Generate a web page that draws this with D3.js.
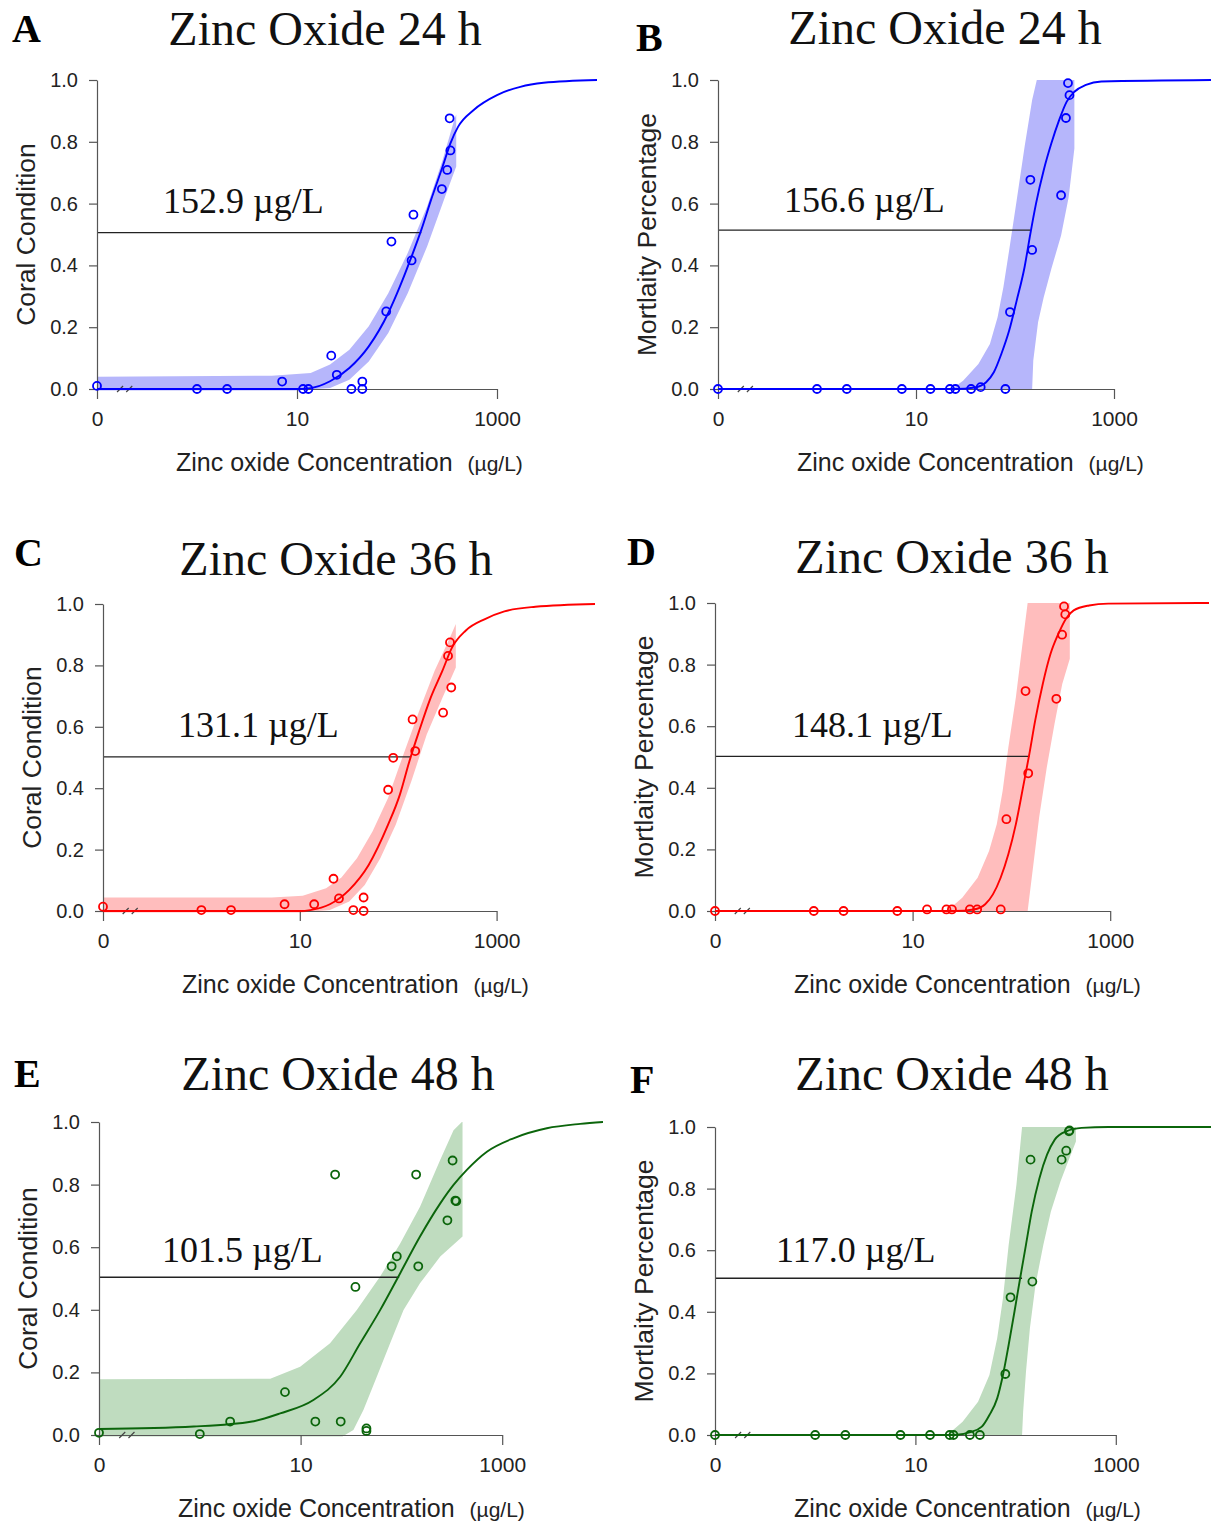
<!DOCTYPE html>
<html>
<head>
<meta charset="UTF-8">
<script src="https://cdn.jsdelivr.net/npm/d3@7"></script>
<style>
  body { margin: 0; background: #fff; }
  .axis text { font-family: "Liberation Sans", Arial, sans-serif; fill: #222; }
  .axis path, .axis line { stroke: #555; stroke-width: 1.2; }
</style>
</head>
<body>
<svg id="fig" width="1211" height="1523"></svg>
<script>
// ---- text ----
var letters = ["A", "B", "C", "D", "E", "F"];
var titles = ["Zinc Oxide 24 h", "Zinc Oxide 24 h", "Zinc Oxide 36 h", "Zinc Oxide 36 h", "Zinc Oxide 48 h", "Zinc Oxide 48 h"];
var yTitles = ["Coral Condition", "Mortlaity Percentage", "Coral Condition", "Mortlaity Percentage", "Coral Condition", "Mortlaity Percentage"];
var ec50Text = ["152.9 \u00b5g/L", "156.6 \u00b5g/L", "131.1 \u00b5g/L", "148.1 \u00b5g/L", "101.5 \u00b5g/L", "117.0 \u00b5g/L"];
var yTicks = [0, 0.2, 0.4, 0.6, 0.8, 1.0];
var xTicks = [0, 10, 1000];

// ---- observed points (dose in ug/L, response) ----
var aDose = [0, 1, 2, 7.1, 11.5, 13, 22, 25, 35, 45, 45, 78, 88, 140, 146, 281, 318, 342, 336];
var aResp = [0.01, 0, 0, 0.024, 0, 0, 0.108, 0.046, 0, 0.024, 0, 0.251, 0.477, 0.416, 0.564, 0.647, 0.709, 0.772, 0.876];
var bDose = [0, 1, 2, 7.2, 14, 22, 25, 36, 45, 80, 89, 143, 149, 292, 327, 355, 343];
var bResp = [0, 0, 0, 0, 0, 0, 0, 0, 0.006, 0, 0.249, 0.677, 0.45, 0.627, 0.877, 0.951, 0.99];
var cDose = [0, 1, 2, 7, 14, 22, 25, 35, 44.5, 44.5, 79, 89, 140, 149, 286, 321, 336, 346];
var cResp = [0.014, 0.003, 0.003, 0.022, 0.022, 0.105, 0.041, 0.003, 0.044, 0, 0.395, 0.499, 0.624, 0.521, 0.646, 0.831, 0.875, 0.728];
var dDose = [0, 1, 2, 7, 14, 22, 25, 38, 45, 78, 89, 139, 148, 285, 326, 351, 341];
var dResp = [0, 0, 0, 0, 0.005, 0.005, 0.005, 0.005, 0.005, 0.005, 0.298, 0.714, 0.447, 0.689, 0.897, 0.963, 0.989];
var eDose = [0, 1, 2, 7, 14, 22, 25, 35, 45, 45, 80, 90, 140, 147, 286, 322, 343, 350];
var eResp = [0.007, 0.003, 0.043, 0.137, 0.043, 0.832, 0.043, 0.473, 0.021, 0.013, 0.539, 0.571, 0.832, 0.539, 0.686, 0.877, 0.749, 0.747];
var fDose = [0, 1, 2, 7.1, 14, 22, 24, 35, 44, 79, 89, 141, 147, 288, 320, 341, 345];
var fResp = [0, 0, 0, 0, 0, 0, 0, 0, 0, 0.198, 0.447, 0.894, 0.498, 0.894, 0.923, 0.986, 0.989];

// ---- fitted curves [dose, response] ----
var aCurve = [[0,0],[10,0],[13.7,0.003],[21.4,0.025],[33.4,0.068],[52.2,0.138],[81.8,0.246],[107,0.332],[140,0.429],[175,0.515],[219,0.612],[286,0.72],[342,0.795],[409,0.849],[585,0.903],[1000,0.951],[1710,0.978],[2924,0.991],[10000,1]];
var bCurve = [[0,0],[25,0],[39.1,0.005],[51.1,0.022],[61.1,0.054],[72.9,0.114],[87.3,0.189],[104,0.286],[125,0.395],[143,0.503],[163,0.6],[195,0.708],[233,0.795],[279,0.87],[333,0.93],[398,0.962],[521,0.984],[745,0.995],[10000,1]];
var cCurve = [[0,0],[10,0],[12.8,0.003],[20.2,0.022],[31.8,0.069],[50.1,0.15],[78.9,0.281],[104,0.379],[130,0.488],[163,0.586],[214,0.695],[281,0.782],[352,0.858],[484,0.913],[762,0.951],[1200,0.976],[2477,0.991],[10000,1]];
var dCurve = [[0,0],[26.5,0],[41.6,0.005],[54.3,0.022],[65,0.054],[77.8,0.108],[93.1,0.184],[111,0.282],[133,0.412],[152,0.51],[174,0.618],[208,0.738],[249,0.835],[299,0.9],[357,0.949],[427,0.976],[611,0.992],[955,0.998],[10000,1]];
var eCurve = [[0,0.019],[0.87,0.027],[3.3,0.043],[6.27,0.069],[13.4,0.112],[24.7,0.186],[39,0.293],[61.5,0.399],[97.3,0.517],[153,0.634],[243,0.74],[329,0.799],[446,0.847],[705,0.905],[1294,0.948],[2773,0.98],[5943,0.994],[10000,1]];
var fCurve = [[0,0],[24.8,0],[35.3,0.009],[46,0.027],[54.8,0.065],[65.5,0.119],[74.8,0.195],[85.3,0.293],[97.5,0.401],[111,0.509],[127,0.618],[145,0.726],[173,0.834],[206,0.91],[246,0.959],[321,0.986],[456,0.997],[845,1],[10000,1]];

// ---- confidence bands: upper edge and lower edge [dose, response] ----
var aBandHi = [[0,0.04],[5.6,0.043],[13.7,0.052],[21.4,0.079],[33.4,0.127],[52.2,0.203],[81.8,0.31],[128,0.44],[200,0.591],[286,0.741],[374,0.871],[391,0.888]];
var aBandLo = [[0,-0.005],[9.5,-0.005],[21.4,0.003],[33.4,0.03],[52.2,0.089],[81.8,0.181],[128,0.31],[200,0.461],[312,0.634],[391,0.72]];
var bBandHi = [[22.9,0],[29.9,0.027],[42.7,0.081],[55.8,0.146],[66.7,0.232],[76.4,0.33],[87.3,0.449],[104,0.611],[125,0.784],[149,0.935],[166,1],[398,1]];
var bBandLo = [[149,0],[153,0.092],[171,0.216],[195,0.297],[233,0.389],[292,0.497],[348,0.62],[398,0.778]];
var cBandHi = [[0,0.044],[5.2,0.044],[10.7,0.05],[18.5,0.074],[26.5,0.109],[38.1,0.172],[54.8,0.259],[78.9,0.368],[113,0.51],[163,0.651],[234,0.782],[336,0.891],[385,0.935]];
var cBandLo = [[0,-0.005],[10.2,-0.005],[20.2,0.003],[31.8,0.031],[45.7,0.085],[65.8,0.172],[94.4,0.281],[136,0.423],[195,0.575],[281,0.694],[385,0.793]];
var dBandHi = [[22.2,0],[31.8,0.043],[45.5,0.108],[59.4,0.195],[71.1,0.282],[81.5,0.39],[93.1,0.531],[111,0.694],[127,0.846],[146,1],[390,1]];
var dBandLo = [[146,0],[167,0.152],[191,0.304],[228,0.466],[273,0.607],[327,0.737],[390,0.819]];
var eBandHi = [[0,0.178],[5,0.18],[9.9,0.218],[19.6,0.293],[36.1,0.399],[61.5,0.506],[97.3,0.612],[153,0.729],[243,0.879],[329,0.974],[398,1],[404,1]];
var eBandLo = [[0,-0.005],[26,-0.005],[33.4,0.016],[42,0.08],[57,0.186],[77.3,0.293],[105,0.399],[153,0.485],[243,0.57],[404,0.634]];
var fBandHi = [[20.8,0],[29.6,0.043],[42.2,0.108],[54.8,0.195],[65.5,0.314],[74.8,0.444],[85.3,0.618],[102,0.813],[116,1],[400,1]];
var fBandLo = [[116,0],[119,0.076],[127,0.206],[139,0.347],[158,0.488],[189,0.617],[225,0.726],[281,0.824],[335,0.889],[400,0.953]];

// EC50 guide line end point [dose, response]
var ec50Line = [[175,0.506],[143,0.514],[132,0.502],[152,0.502],[95,0.504],[116,0.509]];

var doses = [aDose, bDose, cDose, dDose, eDose, fDose];
var resps = [aResp, bResp, cResp, dResp, eResp, fResp];
var curves = [aCurve, bCurve, cCurve, dCurve, eCurve, fCurve];
var bandHi = [aBandHi, bBandHi, cBandHi, dBandHi, eBandHi, fBandHi];
var bandLo = [aBandLo, bBandLo, cBandLo, dBandLo, eBandLo, fBandLo];

var lineColors = ["#0000ff", "#0000ff", "#ff0000", "#ff0000", "#0b650b", "#0b650b"];
var bandColors = ["#b6b6fb", "#b6b6fb", "#ffbdbd", "#ffbdbd", "#bfdcbf", "#bfdcbf"];

// panel placement in the page
var layout = [
  {x0: 97,  x1: 597,  yTop: 80,   yBot: 389,  tX: 325, tY: 45,   lX: 12,  lY: 42,   eX: 163, eY: 213},
  {x0: 718, x1: 1213, yTop: 80,   yBot: 389,  tX: 945, tY: 44,   lX: 636, lY: 51,   eX: 784, eY: 212},
  {x0: 103, x1: 595,  yTop: 604,  yBot: 911,  tX: 336, tY: 575,  lX: 14,  lY: 566,  eX: 178, eY: 737},
  {x0: 715, x1: 1209, yTop: 603,  yBot: 911,  tX: 952, tY: 573,  lX: 627, lY: 565,  eX: 792, eY: 737},
  {x0: 99,  x1: 603,  yTop: 1122, yBot: 1435, tX: 338, tY: 1090, lX: 14,  lY: 1087, eX: 162, eY: 1262},
  {x0: 715, x1: 1216, yTop: 1127, yBot: 1435, tX: 952, tY: 1090, lX: 630, lY: 1093, eX: 776, eY: 1262}
];

var svg = d3.select("#fig");
var serif = "'Liberation Serif', 'Times New Roman', serif";
var sans = "'Liberation Sans', Arial, sans-serif";

function dv(c) { return c <= 0 ? 0.1 : c; }   // "0" dose sits at 0.1 on the log axis

function drawPanel(i) {
  var L = layout[i];
  var x = d3.scaleLog().domain([0.1, 10000]).range([L.x0, L.x1]);
  var y = d3.scaleLinear().domain([0, 1]).range([L.yBot, L.yTop]);
  var g = svg.append("g");

  // band
  var poly = bandHi[i].concat(bandLo[i].slice().reverse());
  g.append("path")
    .attr("d", d3.line().x(function(d){ return x(dv(d[0])); }).y(function(d){ return y(d[1]); }).curve(d3.curveLinearClosed)(poly))
    .attr("fill", bandColors[i]).attr("stroke", "none");

  // EC50 guide
  var e = ec50Line[i];
  g.append("line")
    .attr("x1", L.x0).attr("x2", x(e[0]))
    .attr("y1", y(e[1])).attr("y2", y(e[1]))
    .attr("stroke", "#222").attr("stroke-width", 1.3);

  // axes
  var yAxis = d3.axisLeft(y).tickValues(yTicks).tickFormat(d3.format(".1f"))
    .tickSize(8).tickSizeOuter(0).tickPadding(11);
  g.append("g").attr("class", "axis").attr("transform", "translate(" + L.x0 + ",0)")
    .call(yAxis).selectAll("text").style("font-size", "20px");

  var xs = x.copy().domain([0.1, 1000]).range([x(0.1), x(1000)]);
  var xAxis = d3.axisBottom(xs).tickValues(xTicks.map(dv))
    .tickFormat(function(d, k){ return String(xTicks[k]); })
    .tickSize(10).tickSizeOuter(0).tickPadding(12);
  g.append("g").attr("class", "axis").attr("transform", "translate(0," + L.yBot + ")")
    .call(xAxis).selectAll("text").style("font-size", "21px");

  // axis break marks
  [0.17, 0.21].forEach(function(b){
    g.append("line")
      .attr("x1", x(b) - 3).attr("y1", L.yBot + 3)
      .attr("x2", x(b) + 3).attr("y2", L.yBot - 3)
      .attr("stroke", "#444").attr("stroke-width", 1.2);
  });

  // fitted curve
  g.append("path")
    .attr("d", d3.line().x(function(d){ return x(dv(d[0])); }).y(function(d){ return y(d[1]); }).curve(d3.curveMonotoneX)(curves[i]))
    .attr("fill", "none").attr("stroke", lineColors[i]).attr("stroke-width", 1.9);

  // points
  g.selectAll("circle.pt").data(doses[i].map(function(d, k){ return [d, resps[i][k]]; }))
    .enter().append("circle")
    .attr("cx", function(d){ return x(dv(d[0])); })
    .attr("cy", function(d){ return y(d[1]); })
    .attr("r", 4)
    .attr("fill", "none").attr("stroke", lineColors[i]).attr("stroke-width", 1.8);

  // labels
  g.append("text").attr("x", L.tX).attr("y", L.tY).attr("text-anchor", "middle")
    .style("font-family", serif).style("font-size", "48px").attr("fill", "#111").text(titles[i]);
  g.append("text").attr("x", L.lX).attr("y", L.lY)
    .style("font-family", serif).style("font-size", "40px").style("font-weight", "bold").attr("fill", "#000").text(letters[i]);
  g.append("text").attr("x", L.eX).attr("y", L.eY)
    .style("font-family", serif).style("font-size", "36px").attr("fill", "#111").text(ec50Text[i]);

  var cy = (L.yTop + L.yBot) / 2;
  g.append("text").attr("transform", "translate(" + (L.x0 - 62) + "," + cy + ") rotate(-90)")
    .attr("text-anchor", "middle")
    .style("font-family", sans).style("font-size", "26.5px").attr("fill", "#222").text(yTitles[i]);

  var xl = g.append("text").attr("x", L.x0 + 79).attr("y", L.yBot + 82)
    .style("font-family", sans).attr("fill", "#222");
  xl.append("tspan").style("font-size", "25px").text("Zinc oxide Concentration");
  xl.append("tspan").attr("dx", 15).style("font-size", "21px").text("(\u00b5g/L)");
}

for (var i = 0; i < 6; i++) drawPanel(i);
</script>
</body>
</html>
